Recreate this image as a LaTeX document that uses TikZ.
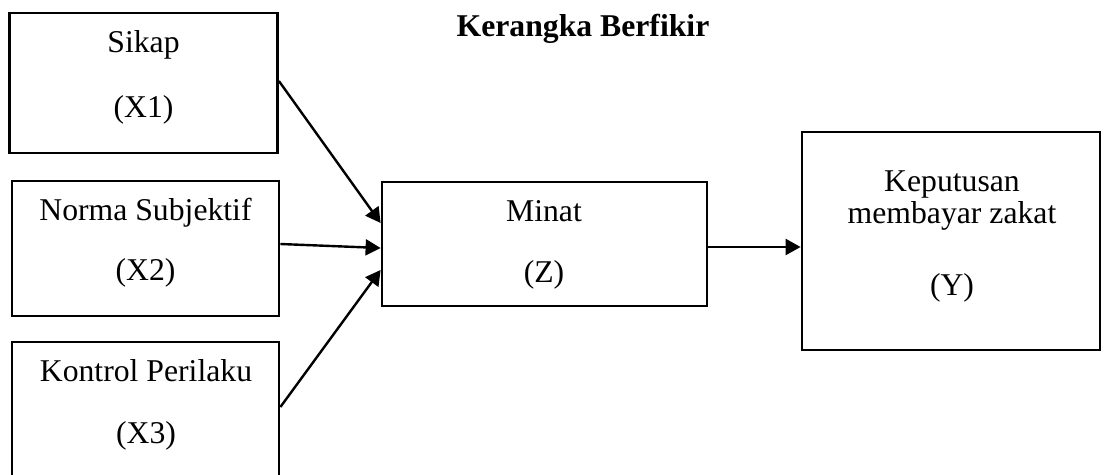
\documentclass[tikz,border=0pt]{standalone}
\usepackage{fontspec}
\setmainfont{Liberation Serif}
\usetikzlibrary{arrows.meta}
\begin{document}
\begin{tikzpicture}[x=0.5pt,y=-0.5pt,
  box/.style={draw=black, line width=1.4pt, fill=none, inner sep=0pt},
  lbl/.style={anchor=base, inner sep=0pt, font=\fontsize{15.85}{19}\selectfont},
  conn/.style={draw=black, line width=1.2pt, -{Triangle[length=7.5pt,width=8pt]}}]
\useasboundingbox (0,0) rectangle (1107,475);
\clip (0,0) rectangle (1107,475);
\node[box, minimum width=134pt, minimum height=70pt] (sikap) at (143.5,83) {};
\node[box, minimum width=133.5pt, minimum height=67.5pt] (norma) at (145.5,248.5) {};
\node[box, minimum width=133.5pt, minimum height=79pt] (kontrol) at (145.5,421) {};
\node[box, minimum width=162.5pt, minimum height=62pt] (minat) at (544.5,244) {};
\node[box, minimum width=149pt, minimum height=109pt] (keputusan) at (951,241) {};
\node[lbl, font=\fontsize{15.85}{19}\selectfont\bfseries] (title) at (583,37) {Kerangka Berfikir};
\node[lbl] (t1a) at (143.5,53) {Sikap};
\node[lbl] (t1b) at (143.5,118) {(X1)};
\node[lbl] (t2a) at (145.5,221) {Norma Subjektif};
\node[lbl] (t2b) at (145.5,281) {(X2)};
\node[lbl] (t3a) at (146,381) {Kontrol Perilaku};
\node[lbl] (t3b) at (146,443) {(X3)};
\node[lbl] (tza) at (544,222) {Minat};
\node[lbl] (tzb) at (544,283) {(Z)};
\node[lbl] (tya) at (952,192) {Keputusan};
\node[lbl] (tyb) at (952,224) {membayar zakat};
\node[lbl] (tyc) at (952,296) {(Y)};
\draw[conn] ([yshift=1pt]sikap.east) -- ([yshift=10.5pt]minat.west);
\draw[conn] ([yshift=2.25pt]norma.east) -- ([yshift=-2pt]minat.west);
\draw[conn] ([yshift=7pt]kontrol.east) -- ([yshift=-13pt]minat.west);
\draw[conn] ([yshift=-1.5pt]minat.east) -- ([yshift=-3pt]keputusan.west);
\end{tikzpicture}
\end{document}
